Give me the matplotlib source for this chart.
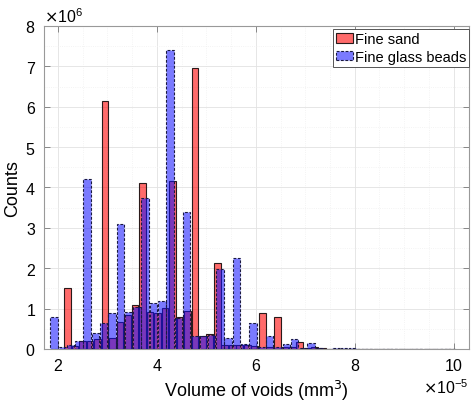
import numpy as np
import matplotlib
matplotlib.use("Agg")
from matplotlib import pyplot as plt
from matplotlib.ticker import MultipleLocator

plt.rcParams['font.family'] = ['Liberation Sans', 'DejaVu Sans']

# Histogram bins (x in units of 1e-5 mm^3, counts in units of 1e6)
SAND_START = 2.192
SAND_WIDTH = 0.1515
sand_counts = [1.50, 0.07, 0.20, 0.20, 0.24, 6.15, 0.28, 0.68, 0.83, 1.10,
               4.10, 0.92, 0.88, 1.02, 4.15, 0.80, 0.95, 6.97, 0.33, 0.37,
               2.13, 0.10, 0.10, 0.10, 0.10, 0.08, 0.90, 0.05, 0.78, 0.05,
               0.05, 0.17, 0.03, 0.06, 0.02, 0.01, 0.01, 0.0, 0.0, 0.0,
               0.0, 0.0, 0.0, 0.0, 0.0, 0.0, 0.0, 0.0, 0.0, 0.0, 0.0, 0.0]

BEADS_START = 1.919
BEADS_WIDTH = 0.1677
beads_counts = [0.80, 0.05, 0.10, 0.20, 4.20, 0.40, 0.65, 0.90, 3.10, 0.92,
                1.05, 3.75, 1.15, 1.18, 7.40, 0.77, 3.40, 0.33, 0.33, 0.35,
                1.97, 0.28, 2.25, 0.12, 0.65, 0.05, 0.33, 0.04, 0.12, 0.25,
                0.03, 0.15, 0.02, 0.01, 0.02, 0.03, 0.02, 0.01, 0.0, 0.0,
                0.0, 0.0, 0.0, 0.0, 0.0, 0.0, 0.0, 0.0, 0.01]

XSCALE = 1e-5
YSCALE = 1e6

fig = plt.figure(figsize=(4.74, 4.06), dpi=100)
ax = fig.add_axes([0.0928, 0.138, 0.8967, 0.7955])

sx = (SAND_START + SAND_WIDTH * np.arange(len(sand_counts))) * XSCALE
bx = (BEADS_START + BEADS_WIDTH * np.arange(len(beads_counts))) * XSCALE

ax.bar(sx, np.array(sand_counts) * YSCALE, width=0.9 * SAND_WIDTH * XSCALE,
       facecolor=(1, 0, 0, 0.58), edgecolor='#2a1a1a', linewidth=0.8,
       label='Fine sand', zorder=2)
ax.bar(bx, np.array(beads_counts) * YSCALE, width=0.9 * BEADS_WIDTH * XSCALE,
       facecolor=(0.05, 0.05, 1, 0.55), edgecolor='#1a1a40', linewidth=0.8,
       linestyle=(0, (2.5, 1.5)), label='Fine glass beads', zorder=3)

ax.set_xlim(1.717e-5, 10.31e-5)
ax.set_ylim(0, 8e6)
ax.xaxis.set_major_locator(MultipleLocator(2e-5))
ax.xaxis.set_minor_locator(MultipleLocator(0.5e-5))
ax.yaxis.set_major_locator(MultipleLocator(1e6))
ax.yaxis.set_minor_locator(MultipleLocator(0.5e6))
ax.ticklabel_format(axis='x', style='sci', scilimits=(-5, -5), useMathText=True)
ax.ticklabel_format(axis='y', style='sci', scilimits=(6, 6), useMathText=True)

ax.grid(True, which='major', color='#e2e2e2', linewidth=0.6, zorder=0)
ax.grid(True, which='minor', color='#f0f0f0', linewidth=0.6, linestyle=':', zorder=0)
ax.set_axisbelow(True)

ax.tick_params(which='major', direction='in', top=True, right=True, length=4,
               width=0.6, color='#777777', labelsize=11.5, pad=6)
ax.tick_params(which='minor', length=0)
ax.xaxis.get_offset_text().set_fontsize(11.5)
ax.yaxis.get_offset_text().set_fontsize(11.5)
for s in ax.spines.values():
    s.set_color('#999999')
    s.set_linewidth(0.8)

ax.set_xlabel('Volume of voids (mm$^3$)', fontsize=13, labelpad=3)
ax.set_ylabel('Counts', fontsize=13, labelpad=3)

leg = ax.legend(loc='upper right', bbox_to_anchor=(1.0, 0.99), borderaxespad=0,
                fontsize=10.5, handlelength=1.15, handleheight=0.6,
                handletextpad=0.15, labelspacing=0.25, borderpad=0.2,
                fancybox=False, framealpha=1)
leg.get_frame().set_edgecolor('#555555')
leg.get_frame().set_linewidth(0.7)

fig.savefig('out.png', dpi=100)
